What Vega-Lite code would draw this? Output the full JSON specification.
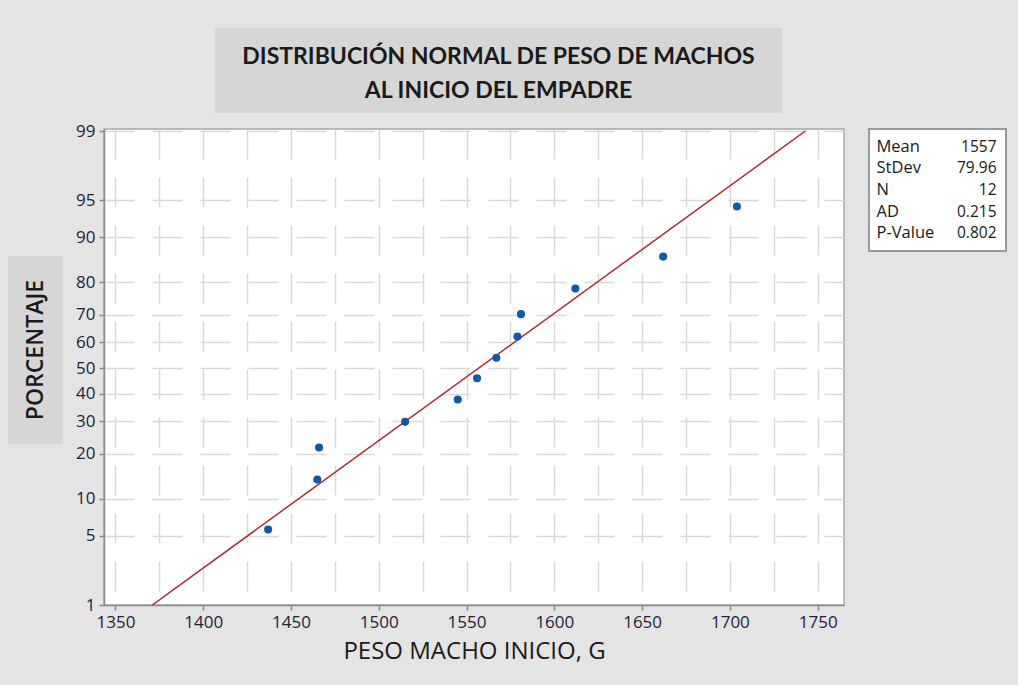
{
  "$schema": "https://vega.github.io/schema/vega-lite/v6.json",
  "background": "#e4e4e4",
  "padding": {"left": 8, "top": 28, "right": 15, "bottom": 21},
  "config": {"view": {"stroke": null}, "font": "Open Sans"},
  "datasets": {
    "puntos": [
      {"peso": 1437, "porcentaje": 5.6, "z": -1.585},
      {"peso": 1465, "porcentaje": 13.7, "z": -1.0935},
      {"peso": 1466, "porcentaje": 21.8, "z": -0.7802},
      {"peso": 1515, "porcentaje": 29.8, "z": -0.5287},
      {"peso": 1545, "porcentaje": 37.9, "z": -0.3083},
      {"peso": 1556, "porcentaje": 46.0, "z": -0.1013},
      {"peso": 1567, "porcentaje": 54.0, "z": 0.1013},
      {"peso": 1579, "porcentaje": 62.1, "z": 0.3083},
      {"peso": 1581, "porcentaje": 70.2, "z": 0.5287},
      {"peso": 1612, "porcentaje": 78.2, "z": 0.7802},
      {"peso": 1662, "porcentaje": 86.3, "z": 1.0935},
      {"peso": 1704, "porcentaje": 94.4, "z": 1.585}
    ],
    "ajuste": [
      {"peso": 1370.98, "porcentaje": 1, "z": -2.3263},
      {"peso": 1743.02, "porcentaje": 99, "z": 2.3263}
    ],
    "estadisticos": [
      {"estadistico": "Mean", "valor": "1557"},
      {"estadistico": "StDev", "valor": "79.96"},
      {"estadistico": "N", "valor": "12"},
      {"estadistico": "AD", "valor": "0.215"},
      {"estadistico": "P-Value", "valor": "0.802"}
    ],
    "titulo": [
      {"texto": "DISTRIBUCIÓN NORMAL DE PESO DE MACHOS\nAL INICIO DEL EMPADRE"}
    ],
    "ejey": [
      {"texto": "PORCENTAJE"}
    ]
  },
  "vconcat": [
    {
      "hconcat": [
        {
          "width": 207, "height": 85,
          "view": {"fill": "#e4e4e4", "stroke": null},
          "data": {"values": []},
          "mark": {"type": "text"},
          "encoding": {"text": {"value": ""}}
        },
        {
          "width": 567, "height": 85,
          "view": {"fill": "#d6d6d6", "stroke": null},
          "data": {"name": "titulo"},
          "mark": {"type": "text", "lineBreak": "\n", "lineHeight": 34, "fontSize": 23, "fontWeight": "bold", "font": "Lato", "color": "#1a1a1a", "baseline": "middle", "dy": -13.5},
          "encoding": {"text": {"field": "texto"}}
        }
      ],
      "spacing": 0,
      "bounds": "flush"
    },
    {
      "hconcat": [
        {
          "vconcat": [
            {
              "width": 55, "height": 127,
              "view": {"fill": "#e4e4e4", "stroke": null},
              "data": {"values": []},
              "mark": {"type": "text"},
              "encoding": {"text": {"value": ""}}
            },
            {
              "width": 55, "height": 188,
              "view": {"fill": "#d6d6d6", "stroke": null},
              "data": {"name": "ejey"},
              "mark": {"type": "text", "angle": 270, "fontSize": 23, "fontWeight": 600, "font": "Open Sans", "color": "#1a1a1a", "baseline": "middle"},
              "encoding": {"text": {"field": "texto"}}
            }
          ],
          "spacing": 0,
          "bounds": "flush"
        },
        {
          "hconcat": [
            {
              "width": 740, "height": 476,
              "view": {"fill": "white", "stroke": "#a8a8a8", "strokeWidth": 1.5},
              "encoding": {
                "x": {
                  "field": "peso", "type": "quantitative",
                  "scale": {"domain": [1343.5, 1765], "nice": false, "zero": false},
                  "axis": {
                    "values": [1350, 1375, 1400, 1425, 1450, 1475, 1500, 1525, 1550, 1575, 1600, 1625, 1650, 1675, 1700, 1725, 1750],
                    "format": "d",
                    "labelExpr": "datum.value % 50 === 0 ? datum.label : ''",
                    "tickOpacity": {"condition": {"test": "datum.value % 50 !== 0", "value": 0}, "value": 1},
                    "grid": true, "gridColor": "#d9d9d9", "gridDash": [30, 18], "gridWidth": 1.5,
                    "tickSize": 5, "tickColor": "#8c8c8c", "tickWidth": 1.5,
                    "domainColor": "#8c8c8c", "domainWidth": 1.5,
                    "labelFontSize": 17, "labelColor": "#22223a", "labelPadding": 4, "labelFlush": false, "labelOverlap": false,
                    "title": "PESO MACHO INICIO, G", "titleFontSize": 24, "titleFontWeight": "normal", "titleColor": "#1a1a1a", "titlePadding": 9
                  }
                },
                "y": {
                  "field": "z", "type": "quantitative",
                  "scale": {"domain": [-2.3263, 2.346], "nice": false, "zero": false},
                  "axis": {
                    "values": [-2.3263, -1.6449, -1.2816, -0.8416, -0.5244, -0.2533, 0, 0.2533, 0.5244, 0.8416, 1.2816, 1.6449, 2.3263],
                    "labelExpr": "format(cumulativeNormal(datum.value) * 100, '.0f')",
                    "grid": true, "gridColor": "#d9d9d9", "gridDash": [30, 18], "gridWidth": 1.5,
                    "tickSize": 5, "tickColor": "#8c8c8c", "tickWidth": 1.5,
                    "domainColor": "#8c8c8c", "domainWidth": 1.5,
                    "labelFontSize": 17, "labelColor": "#22223a", "labelPadding": 4, "labelFlush": false, "labelOverlap": false,
                    "title": null
                  }
                }
              },
              "layer": [
                {
                  "data": {"name": "ajuste"},
                  "mark": {"type": "line", "color": "#b0282d", "strokeWidth": 1.5, "clip": true}
                },
                {
                  "data": {"name": "puntos"},
                  "mark": {"type": "circle", "size": 65, "color": "#0f5aa8", "opacity": 1}
                }
              ]
            },
            {
              "width": 137, "height": 122,
              "view": {"fill": "white", "stroke": "#9a9a9a", "strokeWidth": 2},
              "data": {"name": "estadisticos"},
              "encoding": {
                "y": {"field": "estadistico", "type": "nominal", "sort": null, "axis": null, "scale": {"type": "point", "padding": 0.83}}
              },
              "layer": [
                {
                  "mark": {"type": "text", "align": "left", "dx": -61, "fontSize": 16.5, "font": "Open Sans", "color": "#1a1a1a", "baseline": "middle"},
                  "encoding": {"text": {"field": "estadistico"}}
                },
                {
                  "mark": {"type": "text", "align": "right", "dx": 59, "fontSize": 15.5, "font": "Open Sans", "color": "#1a1a1a", "baseline": "middle"},
                  "encoding": {"text": {"field": "valor"}}
                }
              ]
            }
          ],
          "spacing": 25,
          "bounds": "flush"
        }
      ],
      "spacing": 11
    }
  ],
  "spacing": 8
}
